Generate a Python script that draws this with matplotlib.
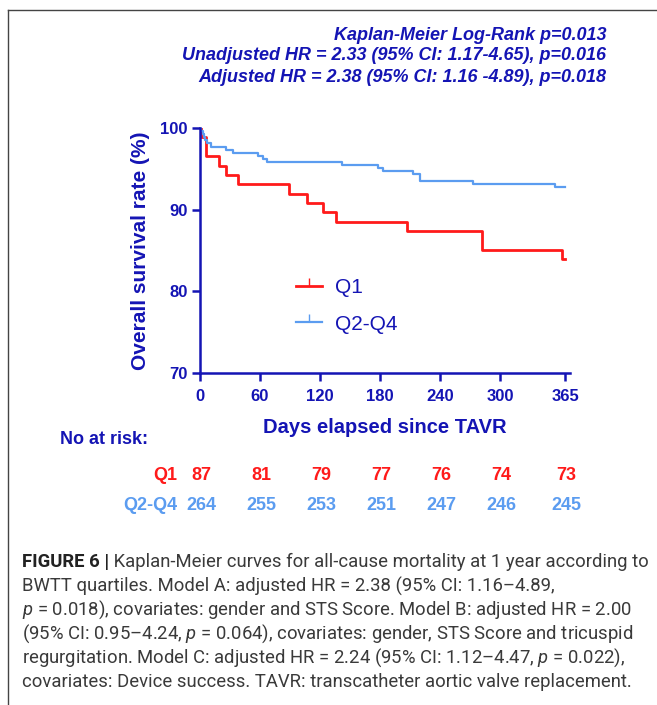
import matplotlib
matplotlib.use("Agg")
import matplotlib.pyplot as plt
import matplotlib.transforms as mtransforms
from matplotlib.lines import Line2D

W, H = 657, 705

# ── data ──
q1_days = [0, 1, 6, 19, 26, 38, 89, 107, 123, 136, 207, 282, 362, 365]
q1_surv = [100, 98.85, 96.55, 95.40, 94.25, 93.10, 91.95, 90.80, 89.66, 88.51, 87.36, 85.06, 83.91, 83.91]
q24_days = [0, 1, 3, 4, 5, 7, 11, 26, 33, 58, 63, 67, 142, 178, 183, 213, 220, 273, 355, 365]
q24_surv = [100, 99.62, 99.24, 98.86, 98.48, 98.11, 97.73, 97.35, 96.97, 96.59, 96.21, 95.83,
            95.45, 95.08, 94.70, 94.32, 93.56, 93.18, 92.80, 92.80]

tick_days = [0, 60, 120, 180, 240, 300, 365]
yticks = [70, 80, 90, 100]
risk_q1 = [87, 81, 79, 77, 76, 74, 73]
risk_q24 = [264, 255, 253, 251, 247, 246, 245]

header = ["Kaplan-Meier Log-Rank p=0.013",
          "Unadjusted HR = 2.33 (95% CI: 1.17-4.65), p=0.016",
          "Adjusted HR = 2.38 (95% CI: 1.16 -4.89), p=0.018"]

caption_head = "FIGURE 6 |"
caption_rest = [
    " Kaplan-Meier curves for all-cause mortality at 1 year according to",
    "BWTT quartiles. Model A: adjusted HR = 2.38 (95% CI: 1.16\u20134.89,",
    "$p$ = 0.018), covariates: gender and STS Score. Model B: adjusted HR = 2.00",
    "(95% CI: 0.95\u20134.24, $p$ = 0.064), covariates: gender, STS Score and tricuspid",
    "regurgitation. Model C: adjusted HR = 2.24 (95% CI: 1.12\u20134.47, $p$ = 0.022),",
    "covariates: Device success. TAVR: transcatheter aortic valve replacement.",
]

NAVY = "#1414B4"
RED = "#FF1A1A"
LBLUE = "#5B9CF0"
CAP = "#3a3a3a"

plt.rcParams["font.family"] = ["Liberation Sans", "DejaVu Sans"]
plt.rcParams["mathtext.fontset"] = "custom"
plt.rcParams["mathtext.rm"] = "Roboto"
plt.rcParams["mathtext.it"] = "Roboto:italic"


def fx(px):
    return px / W


def fy(py):
    return 1 - py / H


fig = plt.figure(figsize=(W / 100, H / 100), dpi=100)

# frame around the figure panel (right/bottom edges cropped)
fig.add_artist(Line2D([fx(8), fx(8)], [fy(10), 0], color="#444444", lw=1.0))
fig.add_artist(Line2D([fx(8), 1], [fy(10), fy(10)], color="#444444", lw=1.0))

ax = fig.add_axes([fx(200), fy(373), fx(570) - fx(200), fy(128) - fy(373)])
ax.step(q1_days, q1_surv, where="post", color=RED, lw=2.0, label="Q1")
ax.step(q24_days, q24_surv, where="post", color=LBLUE, lw=1.6, label="Q2-Q4")
ax.set_xlim(0, 370)
ax.set_ylim(70, 100)
ax.spines[["top", "right"]].set_visible(False)
for s in ["left", "bottom"]:
    ax.spines[s].set_color(NAVY)
    ax.spines[s].set_linewidth(1.8)
ax.set_xticks(tick_days)
ax.set_yticks(yticks)
ax.tick_params(colors=NAVY, width=1.8, length=5.5, labelsize=12)
ax.tick_params(axis="x", pad=6)
for lab in ax.get_xticklabels() + ax.get_yticklabels():
    lab.set_fontweight("bold")
ax.set_ylabel("Overall survival rate (%)", color=NAVY, fontsize=15, fontweight="bold", labelpad=7)
ax.set_xlabel("Days elapsed since TAVR", color=NAVY, fontsize=14.5, fontweight="bold", labelpad=10)

handles = [Line2D([], [], color=RED, lw=2.0, marker=2, markersize=6),
           Line2D([], [], color=LBLUE, lw=1.6, marker=2, markersize=6)]
ax.legend(handles, ["Q1", "Q2-Q4"], loc="center left",
          bbox_to_anchor=((296 - 200) / 370, (373 - 306) / 245),
          frameon=False, fontsize=15, labelcolor=NAVY, handlelength=1.25,
          handletextpad=0.6, labelspacing=0.84, numpoints=1,
          borderpad=0, borderaxespad=0)

# header
for i, line in enumerate(header):
    fig.text(fx(606), fy(35 + i * 21), line, ha="right", va="center", color=NAVY,
             fontsize=13, fontweight="bold", fontstyle="italic")

# number at risk table
fig.text(fx(60), fy(440), "No at risk:", ha="left", va="center", color=NAVY,
         fontsize=13, fontweight="bold")
trans = mtransforms.blended_transform_factory(ax.transData, fig.transFigure)
fig.text(fx(177), fy(475), "Q1", ha="right", va="center", color=RED, fontsize=13, fontweight="bold")
fig.text(fx(177), fy(506), "Q2-Q4", ha="right", va="center", color=LBLUE, fontsize=13, fontweight="bold")
for d, a, b in zip(tick_days, risk_q1, risk_q24):
    ax.text(d + 1.5, fy(475), str(a), transform=trans, ha="center", va="center",
            color=RED, fontsize=13, fontweight="bold")
    ax.text(d + 1.5, fy(506), str(b), transform=trans, ha="center", va="center",
            color=LBLUE, fontsize=13, fontweight="bold")

# caption, font size fitted so the first line spans x 22..645
cap_font = ["Roboto", "DejaVu Sans"]
cap_size = 12.5
t0 = fig.text(fx(22), fy(562), caption_head, ha="left", va="center", color="#222222",
              fontsize=cap_size, fontweight="bold", family=cap_font)
t1 = fig.text(0, fy(562), caption_rest[0], ha="left", va="center", color=CAP,
              fontsize=cap_size, family=cap_font)
fig.canvas.draw()
r = fig.canvas.get_renderer()
width = t0.get_window_extent(r).width + t1.get_window_extent(r).width
cap_size = cap_size * (645 - 22) / width
t0.set_fontsize(cap_size)
t1.set_fontsize(cap_size)
fig.canvas.draw()
t1.set_x(t0.get_window_extent(r).x1 / W)
for i, line in enumerate(caption_rest[1:], start=1):
    fig.text(fx(22), fy(562 + i * 24), line, ha="left", va="center", color=CAP,
             fontsize=cap_size, family=cap_font)

fig.savefig("out.png", dpi=100)
